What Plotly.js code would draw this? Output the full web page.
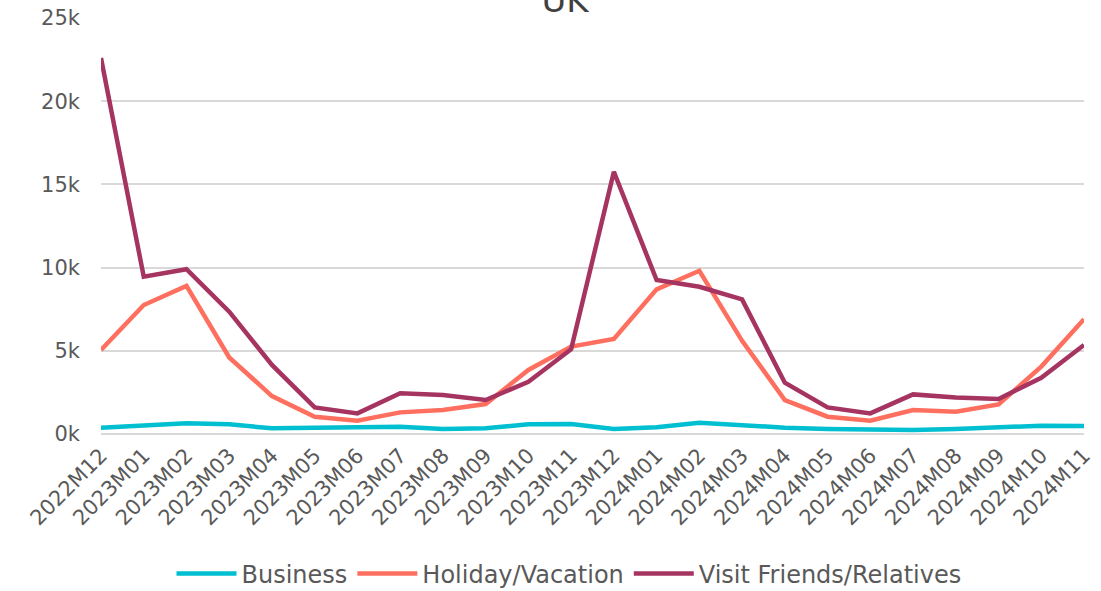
<!DOCTYPE html>
<html>
<head>
<meta charset="utf-8">
<script src="https://cdn.plot.ly/plotly-3.0.1.min.js"></script>
<style>html,body{margin:0;padding:0;background:#fff;}#chart{width:1101px;height:591px;}</style>
</head>
<body>
<div id="chart"></div>
<script>
const categories = ["2022M12","2023M01","2023M02","2023M03","2023M04","2023M05","2023M06","2023M07","2023M08","2023M09","2023M10","2023M11","2023M12","2024M01","2024M02","2024M03","2024M04","2024M05","2024M06","2024M07","2024M08","2024M09","2024M10","2024M11"];
const business = [380,540,640,580,340,380,400,440,300,340,580,600,300,400,680,500,380,300,280,240,300,380,500,480];
const holiday = [5050,7750,8900,4600,2280,1040,800,1300,1440,1800,3850,5250,5710,8690,9810,5600,2040,1040,800,1440,1340,1780,4050,6900];
const visit = [22600,9450,9900,7350,4150,1600,1240,2450,2340,2040,3140,5090,15760,9250,8850,8090,3080,1600,1240,2380,2200,2100,3380,5350];
const seriesNames = ["Business","Holiday/Vacation","Visit Friends/Relatives"];
const seriesColors = ["#00BFD1","#FF6F5F","#A63461"];
const yTickVals = [0,5000,10000,15000,20000,25000];
const yTickText = ["0k","5k","10k","15k","20k","25k"];

const data = [business, holiday, visit].map((vals, i) => ({
  type: "scatter", mode: "lines", x: categories, y: vals, name: seriesNames[i],
  line: {color: seriesColors[i], width: 4.5}
}));

const layout = {
  width: 1101, height: 591,
  margin: {l: 101, r: 17, t: 18, b: 157},
  paper_bgcolor: "#fff", plot_bgcolor: "#fff",
  font: {family: "DejaVu Sans, sans-serif", color: "#595959"},
  title: {text: "UK", font: {size: 34, color: "#404040"}, x: 565/1101, xanchor: "center", xref: "container", yref: "container", y: 1.0, yanchor: "middle"},
  showlegend: true,
  legend: {orientation: "h", x: 569/1101, xanchor: "center", xref: "container", y: 17/591, yanchor: "middle", yref: "container", font: {size: 24, color: "#595959"}, itemwidth: 60},
  xaxis: {type: "category", range: [0, 23], tickangle: -45, tickfont: {size: 21, color: "#595959"}, showgrid: false, zeroline: false, showline: false, ticks: "", ticklabelstandoff: 4, automargin: false},
  yaxis: {range: [0, 25000], tickvals: yTickVals, ticktext: yTickText, tickfont: {size: 21, color: "#595959"}, showgrid: true, gridcolor: "#D9D9D9", gridwidth: 2, zeroline: true, zerolinecolor: "#D9D9D9", zerolinewidth: 2, showline: false, ticks: "", ticklabelstandoff: 20, automargin: false}
};
Plotly.newPlot("chart", data, layout, {displayModeBar: false, staticPlot: true});
</script>
</body>
</html>
